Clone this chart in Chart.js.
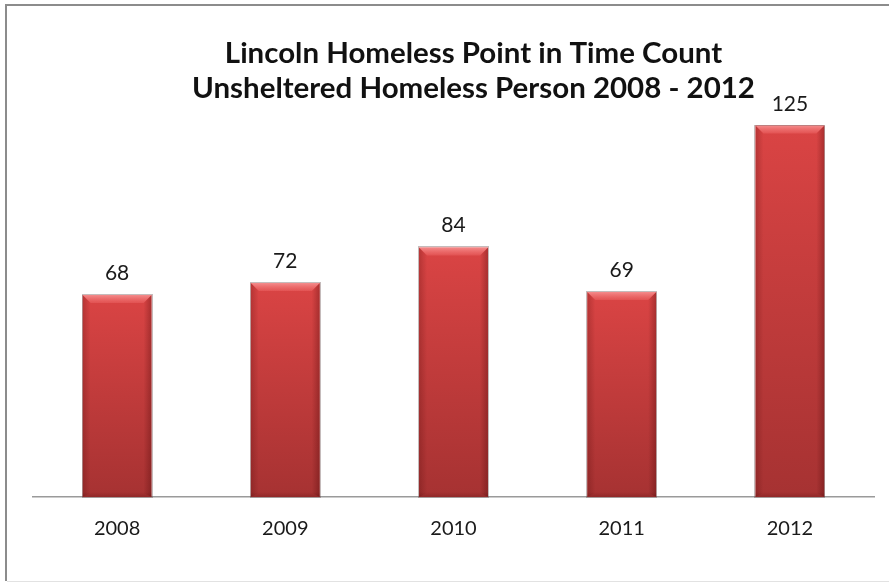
<!DOCTYPE html>
<html>
<head>
<meta charset="utf-8">
<script src="https://cdn.jsdelivr.net/npm/chart.js@4.4.0/dist/chart.umd.min.js"></script>
<style>
  html, body { margin: 0; padding: 0; background: #fff; overflow: hidden; }
  #c { display: block; }
</style>
</head>
<body>
<canvas id="c" width="889" height="583"></canvas>
<script>
const titleLines = ['Lincoln Homeless Point in Time Count', 'Unsheltered Homeless Person 2008 - 2012'];
const categories = ['2008', '2009', '2010', '2011', '2012'];
const unshelteredCounts = [68, 72, 84, 69, 125];
const yMin = 0;
const yMax = 140;

const FONT = 'Lato, "Open Sans", "DejaVu Sans", sans-serif';

function barFill(context) {
  const chart = context.chart;
  const yScale = chart.scales.y;
  if (!yScale || !chart.chartArea) return '#c43c3c';
  const v = context.parsed ? context.parsed.y : context.raw;
  const top = yScale.getPixelForValue(v);
  const base = yScale.getPixelForValue(0);
  const g = chart.ctx.createLinearGradient(0, top, 0, base);
  g.addColorStop(0, '#da4444');
  g.addColorStop(1, '#a63232');
  return g;
}

const framePlugin = {
  id: 'frame',
  beforeDraw(chart) {
    const ctx = chart.ctx;
    ctx.save();
    ctx.fillStyle = '#ffffff';
    ctx.fillRect(0, 0, chart.width, chart.height);
    ctx.strokeStyle = '#8c8c8c';
    ctx.lineWidth = 2;
    ctx.beginPath();
    ctx.moveTo(6, 581);
    ctx.lineTo(6, 5);
    ctx.lineTo(chart.width + 2, 5);
    ctx.stroke();
    ctx.strokeStyle = '#e2e2e2';
    ctx.lineWidth = 1;
    ctx.beginPath();
    ctx.moveTo(7, 581.5);
    ctx.lineTo(chart.width, 581.5);
    ctx.stroke();
    ctx.restore();
  }
};

const titlePlugin = {
  id: 'customTitle',
  afterDraw(chart) {
    const ctx = chart.ctx;
    ctx.save();
    ctx.fillStyle = '#111111';
    ctx.textAlign = 'center';
    ctx.textBaseline = 'alphabetic';
    ctx.font = 'bold 28px ' + FONT;
    const w = ctx.measureText(titleLines[1]).width;
    const size = Math.min(30, 28 * 563 / w);
    ctx.font = 'bold ' + size.toFixed(2) + 'px ' + FONT;
    ctx.fillText(titleLines[0], 473.5, 63);
    ctx.fillText(titleLines[1], 473.5, 98);
    ctx.restore();
  }
};

const bevelPlugin = {
  id: 'bevel',
  afterDatasetsDraw(chart) {
    const ctx = chart.ctx;
    const meta = chart.getDatasetMeta(0);
    ctx.save();
    meta.data.forEach((bar) => {
      const p = bar.getProps(['x', 'y', 'base', 'width'], true);
      const l = p.x - p.width / 2, r = p.x + p.width / 2;
      const t = p.y, b = p.base;
      const bv = 8;
      let g = ctx.createLinearGradient(l, 0, l + bv, 0);
      g.addColorStop(0, 'rgba(60,0,0,0.22)');
      g.addColorStop(1, 'rgba(60,0,0,0)');
      ctx.fillStyle = g;
      ctx.beginPath();
      ctx.moveTo(l, t); ctx.lineTo(l + bv, t + bv); ctx.lineTo(l + bv, b - 4); ctx.lineTo(l, b);
      ctx.closePath(); ctx.fill();
      g = ctx.createLinearGradient(r, 0, r - bv, 0);
      g.addColorStop(0, 'rgba(60,0,0,0.3)');
      g.addColorStop(1, 'rgba(60,0,0,0)');
      ctx.fillStyle = g;
      ctx.beginPath();
      ctx.moveTo(r, t); ctx.lineTo(r - bv, t + bv); ctx.lineTo(r - bv, b - 4); ctx.lineTo(r, b);
      ctx.closePath(); ctx.fill();
      g = ctx.createLinearGradient(0, t, 0, t + bv);
      g.addColorStop(0, 'rgba(255,170,170,0.7)');
      g.addColorStop(1, 'rgba(255,130,130,0.25)');
      ctx.fillStyle = g;
      ctx.beginPath();
      ctx.moveTo(l, t); ctx.lineTo(r, t); ctx.lineTo(r - bv, t + bv); ctx.lineTo(l + bv, t + bv);
      ctx.closePath(); ctx.fill();
      g = ctx.createLinearGradient(0, b - 5, 0, b);
      g.addColorStop(0, 'rgba(60,0,0,0)');
      g.addColorStop(1, 'rgba(60,0,0,0.2)');
      ctx.fillStyle = g;
      ctx.fillRect(l, b - 5, r - l, 5);
      ctx.strokeStyle = 'rgba(90,60,60,0.35)';
      ctx.lineWidth = 1;
      ctx.strokeRect(Math.round(l) - 0.5, Math.round(t) - 0.5, Math.round(r - l) + 1, Math.round(b - t) + 1);
    });
    ctx.restore();
  }
};

const valueLabelPlugin = {
  id: 'valueLabels',
  afterDatasetsDraw(chart) {
    const ctx = chart.ctx;
    const meta = chart.getDatasetMeta(0);
    const data = chart.data.datasets[0].data;
    ctx.save();
    ctx.fillStyle = '#1a1a1a';
    ctx.font = '21px ' + FONT;
    ctx.textAlign = 'center';
    ctx.textBaseline = 'alphabetic';
    meta.data.forEach((bar, i) => {
      const p = bar.getProps(['x', 'y'], true);
      ctx.fillText(String(data[i]), p.x, p.y - 15);
    });
    ctx.restore();
  }
};

new Chart(document.getElementById('c'), {
  type: 'bar',
  data: {
    labels: categories,
    datasets: [{
      data: unshelteredCounts,
      backgroundColor: barFill,
      borderWidth: 0,
      barPercentage: 0.41,
      categoryPercentage: 1.0
    }]
  },
  options: {
    responsive: false,
    animation: false,
    devicePixelRatio: 1,
    layout: { padding: { left: 33, right: 15, top: 81, bottom: 0 } },
    plugins: {
      legend: { display: false },
      title: { display: false },
      tooltip: { enabled: false }
    },
    scales: {
      x: {
        grid: { display: false, drawTicks: false },
        border: { display: true, color: '#9a9a9a', width: 1.5 },
        ticks: {
          color: '#1a1a1a',
          font: { family: FONT, size: 20 },
          padding: 20,
          maxRotation: 0
        },
        afterFit(scale) { scale.height = 86; }
      },
      y: {
        display: false,
        min: yMin,
        max: yMax
      }
    }
  },
  plugins: [framePlugin, titlePlugin, bevelPlugin, valueLabelPlugin]
});
</script>
</body>
</html>
